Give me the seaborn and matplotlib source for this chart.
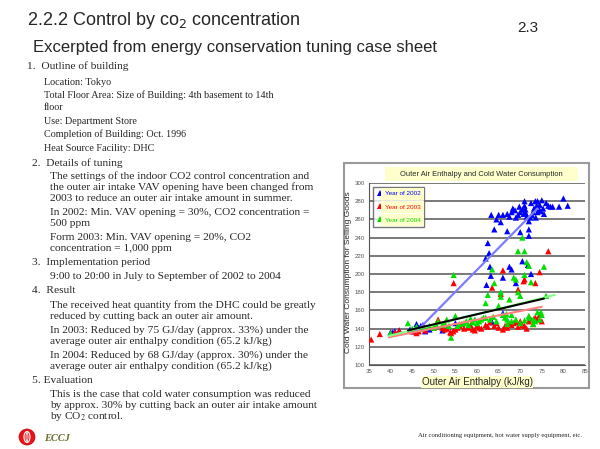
import numpy as np
import pandas as pd
import matplotlib
matplotlib.use("Agg")
import matplotlib.pyplot as plt
import seaborn as sns
from matplotlib.patches import Rectangle, Circle, Ellipse
from matplotlib.transforms import IdentityTransform

# ------------------ Data ------------------
x_2002 = [40, 40.5, 41, 42, 44.5, 45.5, 46, 46.5, 47, 47.5, 48, 49, 52, 55, 63.5, 66,
          62, 62.5, 62.8, 63, 63.2, 62.2, 64, 63.3, 64.5, 65, 66, 67, 67.5, 68, 66,
          67, 67.5, 68, 68.3, 68.8, 69, 69.5, 70, 70, 70.5, 70.5, 71, 71, 71.3, 71.5,
          72, 72, 72, 71.8, 72.3, 72.5, 72.7, 73, 73.2, 73.5, 73.8, 74, 74, 74.5,
          74.5, 75, 75.3, 75.5, 76, 76.5, 77, 77.5, 79, 80, 81, 72.5, 69, 65.5, 71.2,
          73.6, 74.8, 70.8, 69.8]
y_2002 = [136, 136, 137, 138, 139, 137, 145, 141, 143, 144, 137, 139, 138, 146, 147, 157,
          217, 234, 223, 208, 198, 188, 249, 265, 260, 265, 265, 247, 208, 205, 196,
          266, 263, 268, 272, 270, 262, 265, 246, 268, 271, 214, 275, 280, 267, 263,
          258, 242, 249, 210, 262, 278, 265, 268, 272, 280, 275, 268, 280, 270,
          276, 281, 272, 266, 278, 275, 274, 274, 274, 283, 275, 200, 190, 257, 271,
          262, 269, 266, 274]

x_2003 = [35.5, 37.5, 41, 42, 45, 46, 46.5, 48, 50, 51, 52, 52.5, 53, 54, 54.5, 55,
          55.5, 56, 57, 58, 58.5, 59, 60, 61, 62, 62.5, 63, 64, 65, 66, 66.5, 67, 67.5,
          68, 68.5, 69, 69.5, 70, 70.5, 71, 72, 72.5, 73, 73.5, 74, 74.5, 75, 54.6,
          63.5, 65.5, 66, 69.5, 70.8, 71, 73.5, 74.5, 76.5, 53.8, 60.5, 56.5, 59.5,
          64.5, 71.5, 73.2]
y_2003 = [128, 134, 136, 138, 137, 135, 137, 138, 141, 150, 141, 139, 140, 135, 137, 139,
          141, 143, 140, 141, 144, 139, 143, 140, 144, 142, 147, 143, 141, 139, 143, 141,
          145, 144, 146, 147, 142, 148, 144, 143, 148, 150, 145, 152, 150, 155, 148, 190,
          185, 178, 204, 183, 192, 194, 190, 202, 225, 136, 141, 145, 138, 146, 140, 151]

x_2004 = [40, 44, 45, 46, 47, 48, 49, 50, 50.5, 51, 52, 52.5, 53, 53.5, 54, 54.6, 55,
          55.5, 56, 57, 57.5, 58, 59, 59.5, 60, 60.5, 61, 61.5, 62, 62.5, 62, 63, 63.5,
          64, 64.5, 65, 65.5, 65.5, 66, 66.5, 67, 67.5, 68, 68.5, 69, 69.5, 69.5, 70,
          70.5, 71, 71, 71.5, 72, 72.5, 72, 73, 73.5, 74, 74.5, 75, 75.5, 76, 67, 68,
          69, 70, 71, 72, 73, 58.5, 63.8, 66.8, 74.8]
y_2004 = [135, 146, 140, 142, 140, 141, 143, 141, 145, 148, 144, 146, 150, 143, 130, 199,
          154, 143, 145, 146, 148, 144, 147, 150, 146, 148, 150, 152, 168, 177, 152, 150,
          205, 190, 148, 165, 175, 180, 155, 152, 150, 172, 148, 196, 194, 225, 180, 176,
          240, 225, 199, 213, 209, 191, 152, 150, 148, 158, 150, 155, 208, 176, 145, 155,
          150, 146, 149, 154, 145, 151, 153, 156, 158]

# trend lines (end points)
trend_x_2002 = [46, 74]
trend_y_2002 = [137, 272]
trend_x_2003 = [39.6, 75]
trend_y_2003 = [130.5, 164]
trend_x_2004 = [39.6, 78]
trend_y_2004 = [132, 177]
trend_x_all = [44, 75.5]
trend_y_all = [138, 173]

year_labels = ["Year of 2002", "Year of 2003", "Year of 2004"]
year_colors = ["#0000ff", "#ff0000", "#00e000"]
x_ticks = list(range(35, 90, 5))
y_ticks = list(range(100, 320, 20))

points = pd.concat([
    pd.DataFrame({"enthalpy": x_2002, "water": y_2002, "year": year_labels[0]}),
    pd.DataFrame({"enthalpy": x_2003, "water": y_2003, "year": year_labels[1]}),
    pd.DataFrame({"enthalpy": x_2004, "water": y_2004, "year": year_labels[2]}),
])

# ------------------ Figure / slide ------------------
sns.set_style("white")
plt.rcParams["font.family"] = ["Liberation Sans", "DejaVu Sans"]
W, H = 600, 449
fig = plt.figure(figsize=(6, 4.49), dpi=100)


def fx(px):
    return px / W


def fy(py):
    return 1 - py / H


fig.text(fx(27), fy(25), "2.2.2 Control by co$_2$ concentration", fontsize=13,
         va="baseline", math_fontfamily="dejavusans")
fig.text(fx(33), fy(52), "Excerpted from energy conservation tuning case sheet",
         fontsize=12, va="baseline")
fig.text(fx(538), fy(32), "2.3", fontsize=11, ha="right", va="baseline")

# section 1 is set a little smaller on the slide
sec1 = [
    (44, 85, "Location: Tokyo"),
    (44, 98, "Total Floor Area: Size of Building: 4th basement to 14th"),
    (44, 110, "floor"),
    (44, 124, "Use: Department Store"),
    (44, 137, "Completion of Building: Oct. 1996"),
    (44, 151, "Heat Source Facility: DHC"),
]
body = [
    (27, 69, "1.  Outline of building"),
    (32, 166, "2.  Details of tuning"),
    (50, 179, "The settings of the indoor CO2 control concentration and"),
    (50, 190, "the outer air intake VAV opening have been changed from"),
    (50, 201, "2003 to reduce an outer air intake amount in summer."),
    (50, 215, "In 2002: Min. VAV opening = 30%, CO2 concentration ="),
    (50, 226, "500 ppm"),
    (50, 240, "Form 2003: Min. VAV opening = 20%, CO2"),
    (50, 251, "concentration = 1,000 ppm"),
    (32, 265, "3.  Implementation period"),
    (50, 279, "9:00 to 20:00 in July to September of 2002 to 2004"),
    (32, 293, "4.  Result"),
    (50, 308, "The received heat quantity from the DHC could be greatly"),
    (50, 319, "reduced by cutting back an outer air amount."),
    (50, 333, "In 2003: Reduced by 75 GJ/day (approx. 33%) under the"),
    (50, 344, "average outer air enthalpy condition (65.2 kJ/kg)"),
    (50, 358, "In 2004: Reduced by 68 GJ/day (approx. 30%) under the"),
    (50, 369, "average outer air enthalpy condition (65.2 kJ/kg)"),
    (32, 383, "5. Evaluation"),
    (50, 397, "This is the case that cold water consumption was reduced"),
    (50, 408, "by approx. 30% by cutting back an outer air intake amount"),
    (50, 419, "by CO$_2$ control."),
]
for px, py, line in sec1:
    fig.text(fx(px), fy(py), line, fontsize=7.3, family="Liberation Serif",
             va="baseline")
for px, py, line in body:
    fig.text(fx(px), fy(py), line, fontsize=8.2, family="Liberation Serif",
             va="baseline", math_fontfamily="stix")

# ECCJ logo (pixel coordinates)
fig.patches.append(Circle((27, H - 437), 8, transform=IdentityTransform(),
                          facecolor="#e8141c", edgecolor="#c00000", lw=0.5))
fig.patches.append(Ellipse((27, H - 437), 6, 11, transform=IdentityTransform(),
                           facecolor="none", edgecolor="white", lw=0.8))
fig.patches.append(Ellipse((27, H - 437), 2, 9, transform=IdentityTransform(),
                           facecolor="#e8141c", edgecolor="white", lw=0.6))
fig.text(fx(44), fy(441), "ECCJ", fontsize=7.5, family="Liberation Serif",
         style="italic", weight="bold", color="#6b6b2a", va="baseline")
fig.text(fx(582), fy(437), "Air conditioning equipment, hot water supply equipment, etc.",
         fontsize=4.8, family="Liberation Serif", ha="right", va="baseline")

# chart frame, behind the axes
fig.patches.append(Rectangle((fx(344), fy(388)), fx(245), 225 / H, transform=fig.transFigure,
                             facecolor="white", edgecolor="#9a9a9a", lw=1.5, zorder=-2))
fig.patches.append(Rectangle((fx(385), fy(181)), fx(193), 14 / H, transform=fig.transFigure,
                             facecolor="#ffffcc", edgecolor="none", zorder=-1))

# ------------------ Scatter chart ------------------
ax = fig.add_axes([fx(369), fy(365), fx(216), 182 / H])
sns.scatterplot(data=points, x="enthalpy", y="water", hue="year", hue_order=year_labels,
                palette=year_colors, marker="^", s=20, edgecolor="none", ax=ax, zorder=3)

trend = pd.DataFrame({
    "x": trend_x_2002 + trend_x_2003 + trend_x_2004 + trend_x_all,
    "y": trend_y_2002 + trend_y_2003 + trend_y_2004 + trend_y_all,
    "fit": ["2002"] * 2 + ["2003"] * 2 + ["2004"] * 2 + ["all"] * 2,
})
sns.lineplot(data=trend, x="x", y="y", hue="fit", units="fit", estimator=None,
             palette={"2002": "#7c7cff", "2003": "#ff8080", "2004": "#80ff80", "all": "black"},
             legend=False, ax=ax, zorder=4, sort=False)
for line, lw in zip(ax.lines, [1.1, 1.1, 1.1, 1.6]):
    line.set_linewidth(lw)

ax.set_xlim(35, 85)
ax.set_ylim(100, 300)
ax.set_xticks(x_ticks)
ax.set_yticks(y_ticks)
ax.tick_params(labelsize=4.4, labelcolor="#555555", length=2, width=0.6, color="#555555", pad=1)
ax.yaxis.grid(True, color="#555555", lw=1.1)
ax.set_axisbelow(True)
for side in ["top", "right"]:
    ax.spines[side].set_visible(False)
for side in ["left", "bottom"]:
    ax.spines[side].set_color("#555555")
    ax.spines[side].set_linewidth(0.8)

ax.set_xlabel("Outer Air Enthalpy (kJ/kg)", fontsize=7, labelpad=2,
              bbox=dict(facecolor="#ffffcc", edgecolor="none", pad=0.5))
ax.set_ylabel("Cold Water Consumption for Selling Goods", fontsize=6.0)
ax.yaxis.set_label_coords(-0.078, 0.51)

fig.text(fx(481), fy(174), "Outer Air Enthalpy and Cold Water Consumption", fontsize=5.4,
         ha="center", va="center")

leg = ax.legend(loc="upper left", bbox_to_anchor=(0.005, 0.995), fontsize=4.6, frameon=True,
                markerscale=1.1, handletextpad=0.2, borderpad=0.6, labelspacing=1.2,
                fancybox=False, edgecolor="#555555", handlelength=1)
leg.get_frame().set_linewidth(1.0)
for txt, col in zip(leg.get_texts(), year_colors):
    txt.set_color(col)
    txt.set_bbox(dict(facecolor="#ffffcc", edgecolor="none", pad=2.5))

fig.savefig("out.png", dpi=100)
